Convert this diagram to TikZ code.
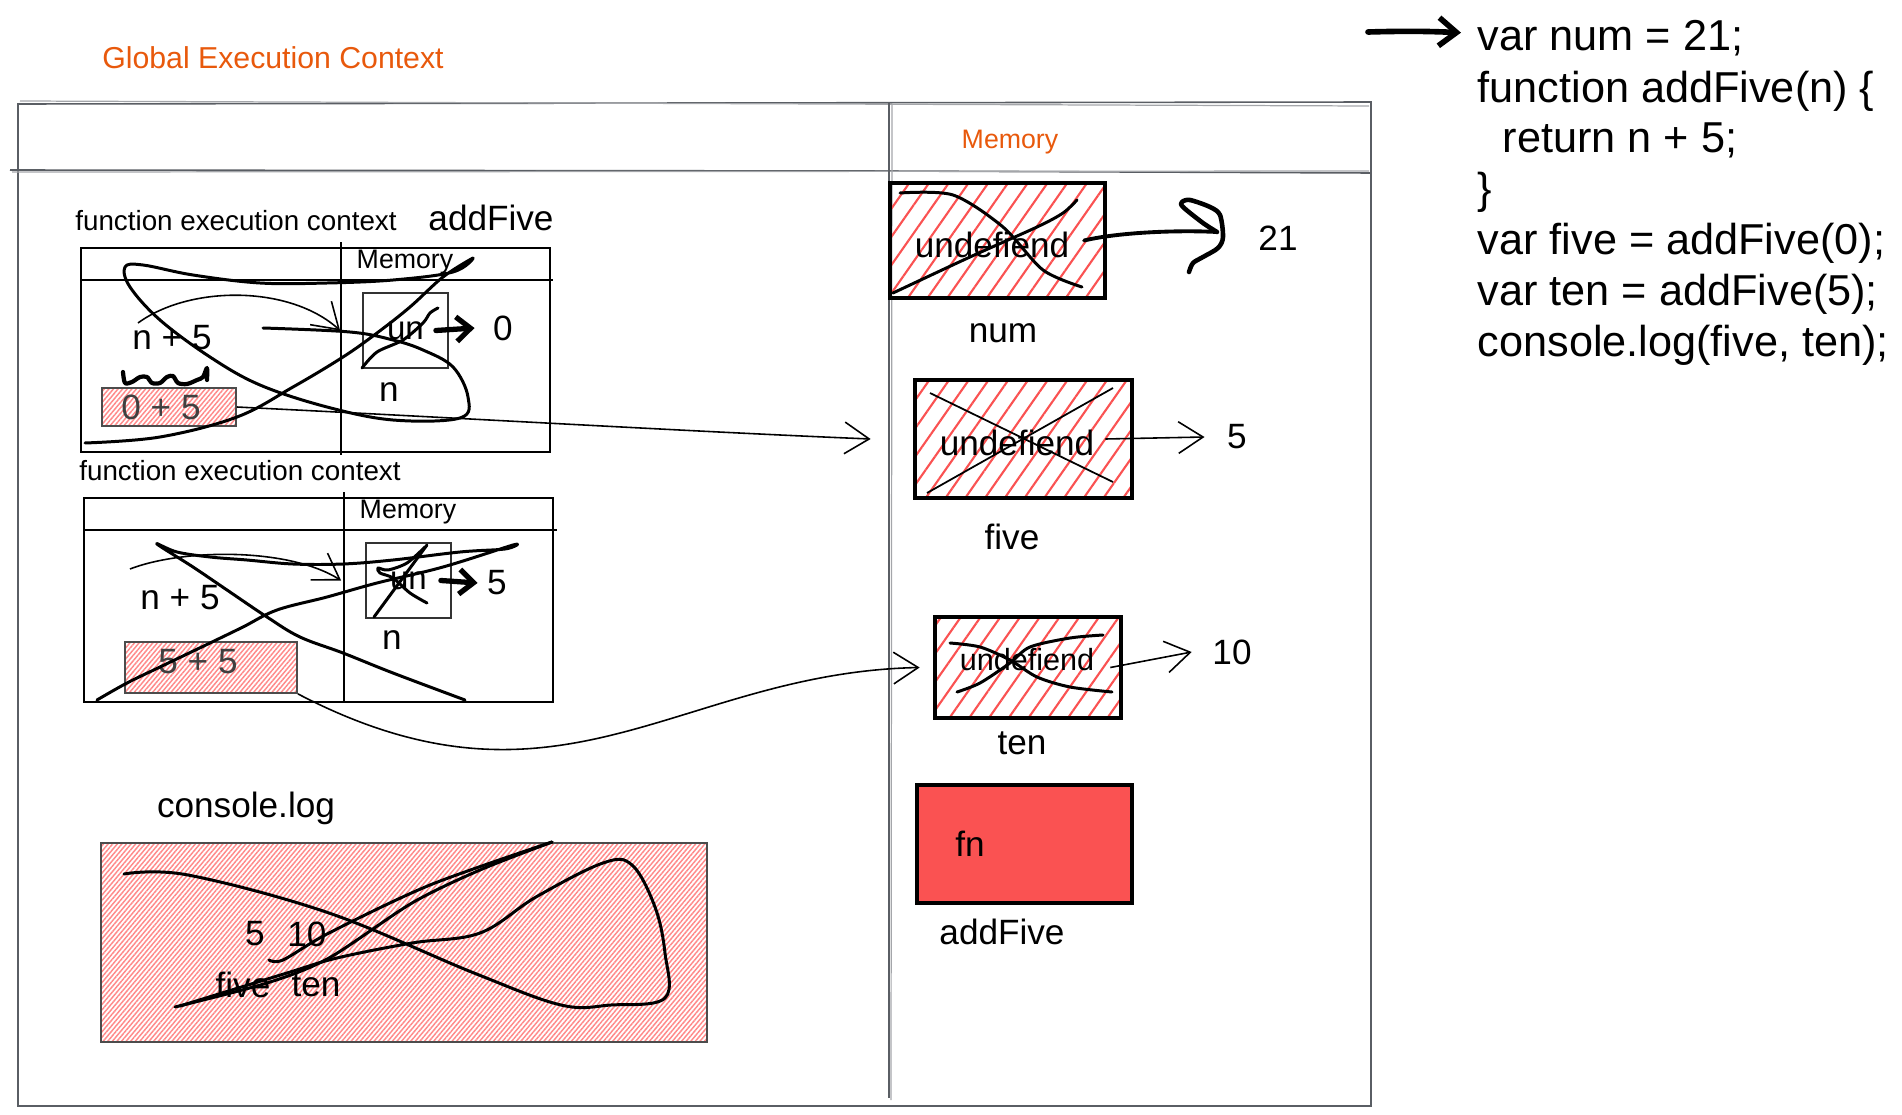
\documentclass[tikz,border=0pt]{standalone}
\usepackage{fontspec}
\setmainfont{Liberation Sans}
\usepackage{tikz}
\usetikzlibrary{arrows.meta,calc,positioning,patterns.meta}
\definecolor{sketchorange}{RGB}{232,89,12}
\definecolor{hatchred}{RGB}{250,82,82}
\definecolor{hatchpink}{RGB}{255,138,138}
\definecolor{framegray}{RGB}{90,94,100}

\begin{document}
\begin{tikzpicture}[x=0.01cm, y=-0.01cm,
  every node/.style={inner sep=0pt, font=\fontsize{10}{12}\selectfont},
  fecfont/.style={font=\fontsize{7.9}{9}\selectfont},
  memfont/.style={font=\fontsize{7.6}{9}\selectfont},
  hand/.style={text=sketchorange, font=\fontsize{8.6}{10}\selectfont},
  codeline/.style={anchor=base west, font=\fontsize{12.3}{14.5}\selectfont},
  frame/.style={draw=framegray, line width=0.45pt},
  frametwo/.style={draw=framegray!55, line width=0.35pt},
  fec/.style={draw, line width=0.6pt},
  cell/.style={draw=black!80, line width=0.5pt, font=\fontsize{9.4}{11}\selectfont},
  pinkbox/.style={draw=black!70, line width=0.5pt,
    pattern={Lines[angle=50, distance=1.0pt, line width=0.42pt]}, pattern color=hatchpink},
  membox/.style={draw, line width=1.3pt,
    pattern={Lines[angle=55, distance=4.6pt, line width=0.6pt]}, pattern color=hatchred},
  scribble/.style={line width=0.85pt, line cap=round, line join=round},
  thinarrow/.style={line width=0.45pt, -{Straight Barb[length=7pt, width=9pt]}},
  bigarrow/.style={line width=1.5pt, line cap=round, -{Straight Barb[length=4pt, width=7pt]}}]

\useasboundingbox (0,0) rectangle (1902,1115);

% codice
\node[codeline] (c1) at (1477,51)  {var num = 21;};
\node[codeline] (c2) at (1477,102) {function addFive(n) \{};
\node[codeline] (c3) at (1477,152) {\hspace{0.25cm}return n + 5;};
\node[codeline] (c4) at (1477,203) {\}};
\node[codeline] (c5) at (1477,254) {var five = addFive(0);};
\node[codeline] (c6) at (1477,305) {var ten = addFive(5);};
\node[codeline] (c7) at (1477,356) {console.log(five, ten);};
\coordinate (ptr) at (1368,32);
\draw[line width=1.6pt, line cap=round, -{Straight Barb[length=5pt, width=8pt]}]
  (ptr) to[bend left=2] ([xshift=-0.16cm, yshift=0.06cm]c1.west);

% global execution context
\node[hand] (gec) at (273,58) {Global Execution Context};
\draw[frame] (18,104) -- (1371,102) -- (1371,1106) -- (18,1106) -- cycle;
\draw[frametwo] (20,101) -- (1369,106);
\draw[frame] (10,170) -- (889,171) -- (1371,173);
\draw[frametwo] (12,172) -- (1369,171);
\draw[frame] (889,102) -- (889,1098);
\draw[frametwo] (892,104) -- (891,1100);
\node[hand, memfont] (gmem) at (1010,142) {Memory};

% function execution context (addFive(0))
\node[fecfont] (fec1) at (236,221) {function execution context};
\node (af) at (491,218) {addFive};
\draw[fec] (81,248) rectangle (550,452);
\draw[fec] (80,280) -- (553,280);
\draw[fec] (341,242) -- (341,455);
\node[memfont] (m1) at (405,262) {Memory};
\node[cell, minimum width=0.85cm, minimum height=0.75cm] (un1) at (405.5,330.5) {un};
\node (n1) at (389,392) {n};
\node (v0) at (503,328) {0};
\node (np1) at (172,338) {n + 5};
\node[pinkbox, minimum width=1.34cm, minimum height=0.38cm] (b05) at (169,407) {};
\node[text=black!75] (t05) at (161,407) {0 + 5};

\draw[thinarrow] ([shift={(-0.34cm,0.15cm)}]np1.center) .. controls (190,285) and (290,285) .. ([xshift=-0.22cm]un1.west);
\draw[bigarrow] ([xshift=-0.13cm]un1.east) -- ([xshift=-0.18cm]v0.west);
\draw[scribble] plot[smooth, tension=0.6] coordinates {(85,443) (160,437) (237,417) (293,387) (343,357)
  (377,333) (410,307) (443,277) (473,258) (453,272) (393,280) (327,283) (260,283) (193,275) (143,265)
  (125,267) (130,287) (160,320) (210,357) (260,385) (327,407) (393,420) (460,418) (468,397) (453,367)
  (423,350) (393,340) (350,332) (263,328)};
\draw[scribble] plot[smooth] coordinates {(362,368) (377,352) (403,340) (423,323) (430,313) (438,308)};
\draw[scribble, line width=1.2pt] plot[smooth] coordinates {(123,372) (125,383) (132,382) (140,377) (147,377)
  (152,383) (160,383) (167,377) (173,376) (178,383) (187,384) (197,380) (203,377) (207,368) (207,380)};

% function execution context (addFive(5))
\node[fecfont] (fec2) at (240,471) {function execution context};
\draw[fec] (84,498) rectangle (553,702);
\draw[fec] (83,530) -- (557,530);
\draw[fec] (344,492) -- (344,703);
\node[memfont] (m2) at (408,512) {Memory};
\node[cell, minimum width=0.85cm, minimum height=0.75cm] (un2) at (408.5,580.5) {un};
\node (n2) at (392,640) {n};
\node (v5a) at (497,583) {5};
\node (np2) at (180,598) {n + 5};
\node[pinkbox, minimum width=1.72cm, minimum height=0.51cm] (b55) at (211,667.5) {};
\node[text=black!75] (t55) at (198,662) {5 + 5};

\draw[thinarrow] ([shift={(-0.5cm,0.29cm)}]np2.center) .. controls (185,548) and (290,548) .. ([xshift=-0.24cm]un2.west);
\draw[bigarrow] ([xshift=-0.11cm]un2.east) -- ([xshift=-0.09cm]v5a.west);
\draw[scribble] plot[smooth, tension=0.6] coordinates {(97,700) (127,683) (160,667) (210,643) (243,627)
  (277,610) (327,597) (377,583) (443,567) (513,545) (505,549) (460,552) (393,560) (343,564) (293,564)
  (247,560) (210,557) (177,552) (157,544) (193,567) (227,590) (267,617) (300,637) (343,653) (393,673) (465,700)};
\draw[scribble] (427,545) -- (374,617);
\draw[scribble] plot[smooth] coordinates {(425,547) (407,563) (388,570) (378,568) (380,573) (393,578) (410,593) (427,603)};

% memoria globale
\node[membox, minimum width=2.15cm, minimum height=1.15cm] (numbox) at (997.5,240.5) {};
\node (numtxt) at (992,245) {undefiend};
\node (numl) at (1003,333) {num};
\node (v21) at (1278,238) {21};
\node[membox, minimum width=2.17cm, minimum height=1.18cm] (fivebox) at (1023.5,439) {};
\node (fivetxt) at (1017,443) {undefiend};
\node (fivel) at (1012,537) {five};
\node (v5) at (1237,437) {5};
\node[membox, minimum width=1.86cm, minimum height=1.01cm] (tenbox) at (1028,667.5) {};
\node[font=\fontsize{8.7}{10}\selectfont] (tentxt) at (1027,660) {undefiend};
\node (tenl) at (1022,743) {ten};
\node (v10) at (1232,652) {10};
\node[draw, line width=1.3pt, fill=hatchred, minimum width=2.15cm, minimum height=1.18cm] (fnbox) at (1024.5,844) {};
\node[right=0.4cm of fnbox.west] (fn) {fn};
\node (fnl) at (1002,932) {addFive};

\draw[scribble] plot[smooth] coordinates {(900,193) (953,195) (1003,227) (1043,270) (1082,287)};
\draw[scribble] plot[smooth] coordinates {(893,293) (970,257) (1037,227) (1063,213) (1077,200)};
\coordinate (hook) at (1217,232);
\draw[scribble, line width=1.1pt] ([xshift=-0.22cm]numbox.east) .. controls (1120,232) and (1180,230) .. (hook);
\draw[scribble, line width=1.3pt] plot[smooth] coordinates {(hook) (1203,223) (1183,207) (1182,202) (1190,200)
  (1210,207) (1220,215) (1223,237) (1218,248) (1203,257) (1193,263) (1189,272)};
\draw[line width=0.5pt] (930,393) -- (1113,482);
\draw[line width=0.5pt] (927,493) -- (1113,388);
\draw[thinarrow] ([xshift=-0.29cm]fivebox.east) -- ([xshift=-0.22cm]v5.west);
\draw[scribble] plot[smooth] coordinates {(950,643) (980,647) (1010,660) (1037,677) (1070,687) (1112,692)};
\draw[scribble] plot[smooth] coordinates {(957,692) (980,683) (1010,663) (1030,647) (1070,638) (1103,635)};
\draw[thinarrow] ([xshift=-0.13cm]tenbox.east) -- ([xshift=-0.2cm]v10.west);

% frecce dai contesti alla memoria
\draw[thinarrow] (b05.east) .. controls (500,420) and (700,432) .. ([xshift=-0.42cm]fivebox.west);
\draw[thinarrow] (b55.south east) .. controls +(263,137) and +(-242,5) .. ([xshift=-0.13cm]tenbox.west);

% console.log
\node (cl) at (246,808) {console.log};
\node[pinkbox, minimum width=6.06cm, minimum height=1.99cm] (clbox) at (404,942.5) {};
\node (o5) at (255,934) {5};
\node (o10) at (307,934) {10};
\node (ofive) at (243,985) {five};
\node (oten) at (316,985) {ten};
\draw[scribble] plot[smooth, tension=0.6] coordinates {(124,874) (188,875) (329,913) (474,973) (561,1005)
  (611,1005) (665,998) (665,953) (655,907) (632,865) (603,863) (536,897) (480,933) (412,943) (337,958)
  (287,973) (180,1006)};
\draw[scribble] plot[smooth, tension=0.5] coordinates {(269,960) (283,960) (329,933) (430,885) (552,842)};
\draw[scribble] plot[smooth, tension=0.5] coordinates {(552,842) (480,870) (412,903) (329,958) (267,983) (175,1007)};

\end{tikzpicture}
\end{document}
